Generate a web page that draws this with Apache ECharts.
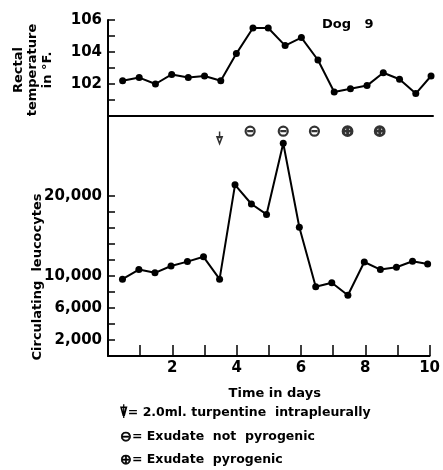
<!DOCTYPE html>
<html>
<head>
<meta charset="utf-8">
<script src="https://cdn.jsdelivr.net/npm/echarts@6/dist/echarts.min.js"></script>
<style>
  html, body { margin: 0; padding: 0; background: #fff; }
  #chart { width: 443px; height: 470px; }
</style>
</head>
<body>
<div id="chart"></div>
<script>
// time of each reading, in days
const days = [0.45, 0.96, 1.46, 1.96, 2.47, 2.97, 3.47, 3.95, 4.46, 4.93,
  5.45, 5.95, 6.46, 6.96, 7.46, 7.97, 8.47, 8.97, 9.47, 9.94]
// rectal temperature, deg F
const temperature = [102.2, 102.4, 102.0, 102.6, 102.4, 102.5, 102.2, 103.9, 105.5, 105.5,
  104.4, 104.9, 103.5, 101.5, 101.7, 101.9, 102.7, 102.3, 101.4, 102.5]
// circulating leucocytes per cu.mm
const leucocytes = [9600, 10800, 10400, 11250, 11800, 12400, 9600, 21400, 19000, 17700,
  26600, 16100, 8650, 9150, 7600, 11750, 10800, 11100, 11850, 11500]

// injection (arrow) and exudate tests
const eventDays = [3.47, 4.42, 5.45, 6.42, 7.45, 8.45]
const eventKinds = ['arrow', 'not', 'not', 'not', 'pyro', 'pyro']
const eventLevels = [27300, 28100, 28100, 28100, 28100, 28100]

// tick labels
const tempTicks = [101, 102, 103, 104, 105, 106]
const tempLabels = [102, 104, 106]
const wbcTicks = [2000, 4000, 6000, 8000, 10000, 12000, 14000, 16000, 18000, 20000]
const wbcLabels = [2000, 6000, 10000, 20000]
const dayTicks = [1, 2, 3, 4, 5, 6, 7, 8, 9, 10]
const dayLabels = [2, 4, 6, 8, 10]

const chart = echarts.init(document.getElementById('chart'))

const font = 'DejaVu Sans'
const withComma = v => String(v).replace(/\B(?=(\d{3})+(?!\d))/g, ',')

// 事件符号
const symbols = {
  arrow: { symbol: 'path://M5 0 L5 6 M1 6 L9 6 L5 13 Z', size: [8, 12], width: 1.8 },
  not: { symbol: 'path://M0,6a6,6 0 1,0 12,0a6,6 0 1,0 -12,0 M2,6 L10,6', size: 9, width: 2.2 },
  pyro: { symbol: 'path://M0,6a6,6 0 1,0 12,0a6,6 0 1,0 -12,0 M6,1 L6,11 M1,6 L11,6', size: 9, width: 2.8 }
}

const glyphStyle = { fontSize: 14, stroke: '#000', lineWidth: 0.7 }

let option = {
  animation: false,
  backgroundColor: '#fff',
  grid: [
    { left: 108, top: 20, width: 325, height: 96 },
    { left: 108, top: 116, width: 325, height: 240 }
  ],
  xAxis: [
    {
      gridIndex: 0,
      type: 'value',
      min: 0,
      max: 10,
      axisLine: { show: true, lineStyle: { color: '#000', width: 2 } },
      axisTick: { show: false },
      axisLabel: { show: false },
      splitLine: { show: false }
    },
    {
      gridIndex: 1,
      type: 'value',
      min: 0,
      max: 10,
      name: 'Time in days',
      nameLocation: 'middle',
      nameGap: 31,
      nameTextStyle: { color: '#000', fontFamily: font, fontWeight: 'bold', fontSize: 13, padding: [0, 0, 0, 12] },
      axisLine: { show: true, lineStyle: { color: '#000', width: 2 } },
      // 刻度线
      axisTick: { show: true, inside: true, length: 11, customValues: dayTicks, lineStyle: { color: '#000', width: 1.5 } },
      axisLabel: { customValues: dayLabels, margin: 5, color: '#000', fontFamily: font, fontWeight: 'bold', fontSize: 15 },
      splitLine: { show: false }
    }
  ],
  yAxis: [
    {
      gridIndex: 0,
      type: 'value',
      min: 100,
      max: 106,
      axisLine: { show: true, lineStyle: { color: '#000', width: 2 } },
      axisTick: { show: true, inside: true, length: 7, customValues: tempTicks, lineStyle: { color: '#000', width: 1.5 } },
      axisLabel: { customValues: tempLabels, margin: 6, color: '#000', fontFamily: font, fontWeight: 'bold', fontSize: 15 },
      splitLine: { show: false }
    },
    {
      gridIndex: 1,
      type: 'value',
      min: 0,
      max: 30000,
      axisLine: { show: true, lineStyle: { color: '#000', width: 2 } },
      axisTick: { show: true, inside: true, length: 7, customValues: wbcTicks, lineStyle: { color: '#000', width: 1.5 } },
      axisLabel: { customValues: wbcLabels, margin: 6, formatter: withComma, color: '#000', fontFamily: font, fontWeight: 'bold', fontSize: 15 },
      splitLine: { show: false }
    }
  ],
  series: [
    {
      name: 'temperature',
      type: 'line',
      xAxisIndex: 0,
      yAxisIndex: 0,
      symbol: 'circle',
      symbolSize: 7,
      itemStyle: { color: '#000' },
      lineStyle: { color: '#000', width: 2 },
      data: days.map((d, i) => [d, temperature[i]])
    },
    {
      name: 'leucocytes',
      type: 'line',
      xAxisIndex: 1,
      yAxisIndex: 1,
      symbol: 'circle',
      symbolSize: 7,
      itemStyle: { color: '#000' },
      lineStyle: { color: '#000', width: 2 },
      data: days.map((d, i) => [d, leucocytes[i]])
    },
    {
      name: 'events',
      type: 'scatter',
      xAxisIndex: 1,
      yAxisIndex: 1,
      data: eventDays.map((d, i) => {
        let s = symbols[eventKinds[i]]
        return {
          value: [d, eventLevels[i]],
          symbol: s.symbol,
          symbolSize: s.size,
          symbolKeepAspect: true,
          itemStyle: { color: 'rgba(0,0,0,0)', borderColor: '#000', borderWidth: s.width }
        }
      })
    }
  ],
  graphic: [
    {
      type: 'text',
      x: 33,
      y: 70,
      rotation: Math.PI / 2,
      style: {
        text: 'Rectal\ntemperature\nin °F.',
        align: 'center',
        verticalAlign: 'middle',
        lineHeight: 14.5,
        fill: '#000',
        font: 'bold 13px "DejaVu Sans"'
      }
    },
    {
      type: 'text',
      x: 38,
      y: 277,
      rotation: Math.PI / 2,
      style: {
        text: 'Circulating  leucocytes',
        align: 'center',
        verticalAlign: 'middle',
        fill: '#000',
        font: 'bold 13px "DejaVu Sans"'
      }
    },
    {
      type: 'text',
      x: 322,
      y: 25,
      style: { text: 'Dog   9', verticalAlign: 'middle', fill: '#000', font: 'bold 13px "DejaVu Sans"' }
    },
    {
      type: 'text',
      x: 120,
      y: 413,
      style: {
        text: '{g|⍒}= 2.0ml. turpentine  intrapleurally',
        verticalAlign: 'middle',
        fill: '#000',
        font: 'bold 12.5px "DejaVu Sans"',
        rich: { g: { fontFamily: 'DejaVu Sans Mono', fontWeight: 'bold', fontSize: 13 } }
      }
    },
    {
      type: 'text',
      x: 120,
      y: 437,
      style: {
        text: '{g|⊖}= Exudate  not  pyrogenic',
        verticalAlign: 'middle',
        fill: '#000',
        font: 'bold 12.5px "DejaVu Sans"',
        rich: { g: glyphStyle }
      }
    },
    {
      type: 'text',
      x: 120,
      y: 460,
      style: {
        text: '{g|⊕}= Exudate  pyrogenic',
        verticalAlign: 'middle',
        fill: '#000',
        font: 'bold 12.5px "DejaVu Sans"',
        rich: { g: glyphStyle }
      }
    }
  ]
}

chart.setOption(option)
</script>
</body>
</html>
